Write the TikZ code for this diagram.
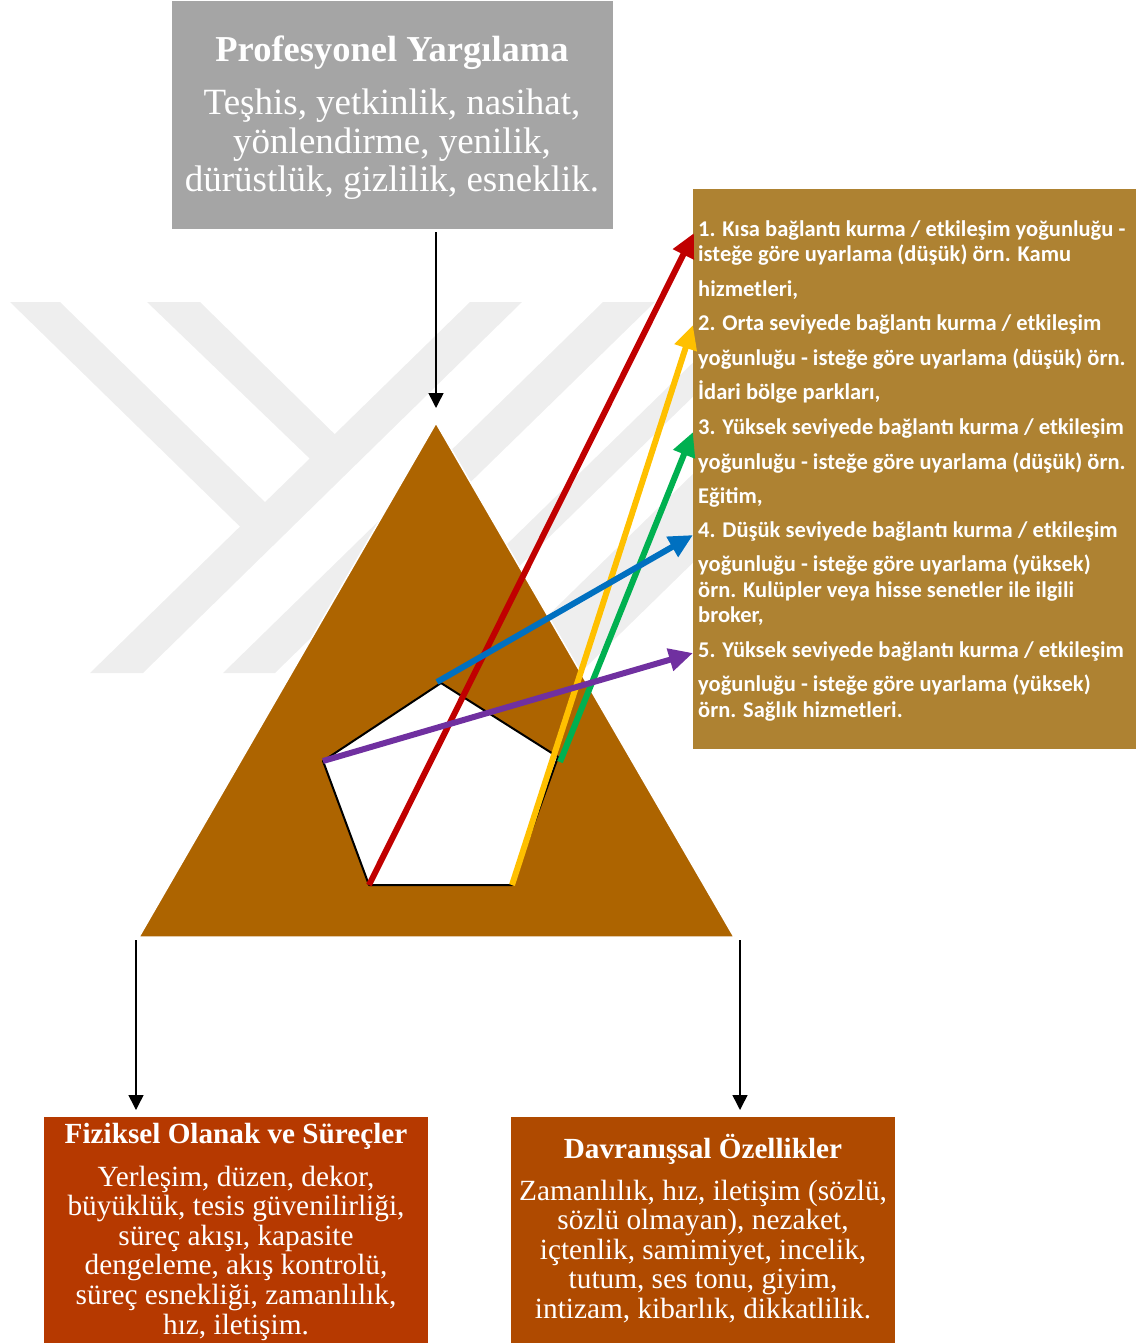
\documentclass[tikz,border=0pt]{standalone}
\usepackage{fontspec}
\setmainfont{Liberation Serif}
\newfontfamily\calfont{Carlito}
\usetikzlibrary{arrows.meta}
\definecolor{wm}{RGB}{238,238,238}
\definecolor{topgray}{RGB}{165,165,165}
\definecolor{tri}{RGB}{173,100,0}
\definecolor{gold}{RGB}{174,130,50}
\definecolor{boxL}{RGB}{182,57,0}
\definecolor{boxR}{RGB}{175,74,0}
\definecolor{cred}{RGB}{192,0,0}
\definecolor{cyel}{RGB}{255,192,0}
\definecolor{cgrn}{RGB}{0,176,80}
\definecolor{cblu}{RGB}{0,112,192}
\definecolor{cpur}{RGB}{112,48,160}
\tikzset{
  boxnode/.style={anchor=north west, inner sep=0pt, outer sep=0pt},
  tl/.style={anchor=base, text=white, inner sep=0pt},
  tlw/.style={anchor=base west, text=white, inner sep=0pt, font=\calfont\bfseries\fontsize{22.5}{24}\selectfont},
  bigtitle/.style={font=\bfseries\fontsize{36.5}{40}\selectfont},
  bigbody/.style={font=\fontsize{37}{40}\selectfont},
  smtitle/.style={font=\bfseries\fontsize{29.2}{32}\selectfont},
  smbody/.style={font=\fontsize{29.3}{32}\selectfont},
  carrow/.style={line width=6pt, -{Triangle[length=24pt,width=22pt]}},
  barrow/.style={line width=1.5pt, black, -{Triangle[length=15pt,width=15pt]}}
}
\begin{document}
\begin{tikzpicture}[x=1pt,y=-1pt]
\useasboundingbox (0,0) rectangle (1138,1343);
% watermark
\begin{scope}
\clip (0,302) rectangle (693,673);
\fill[wm] (10,302) -- (60,302) -- (291,527.5) -- (266,552) -- cycle;
\fill[wm] (147,302) -- (200,302) -- (358,457) -- (333,481) -- cycle;
\fill[wm] (470,302) -- (522,302) -- (143,673) -- (90,673) -- cycle;
\fill[wm] (603,302) -- (655,302) -- (275,673) -- (223,673) -- cycle;
\fill[wm] (755,302) -- (790,302) -- (410,673) -- (375,673) -- cycle;
\fill[wm] (869,302) -- (960,302) -- (580,673) -- (489,673) -- cycle;
\end{scope}
% boxes
\node[boxnode, fill=topgray, minimum width=441pt, minimum height=228pt] (topbox) at (172,1) {};
\node[boxnode, fill=gold, minimum width=443pt, minimum height=560pt] (rbox) at (693,189) {};
\node[boxnode, fill=boxL, minimum width=384pt, minimum height=227pt] (lbbox) at (44,1117) {};
\node[boxnode, fill=boxR, minimum width=384pt, minimum height=227pt] (rbbox) at (511,1117) {};
% triangle
\coordinate (apex) at (436,423);
\coordinate (bl) at (139,937);
\coordinate (br) at (734,937);
\path[fill=tri, draw=white, line width=1.5pt, line join=miter] (apex) -- (bl) -- (br) -- cycle;
% pentagon
\coordinate (p1) at (441,683);
\coordinate (p2) at (558,757);
\coordinate (p3) at (512,885);
\coordinate (p4) at (369,885);
\coordinate (p5) at (323,761);
\draw[fill=white, line width=2pt, line join=round] (p1) -- (p2) -- (p3) -- (p4) -- (p5) -- cycle;
% black arrows
\coordinate (topstart) at (436,232);
\coordinate (topend) at (436,408);
\coordinate (lstart) at (136,940);
\coordinate (lend) at (136,1110);
\coordinate (rstart) at (740,940);
\coordinate (rend) at (740,1110);
\draw[barrow] (topstart) -- (topend);
\draw[barrow] (lstart) -- (lend);
\draw[barrow] (rstart) -- (rend);
% coloured arrows
\coordinate (redtip) at (694,233);
\coordinate (yeltip) at (693,325);
\coordinate (grnstart) at (560,762);
\coordinate (grntip) at (693,432);
\coordinate (blustart) at (437,682);
\coordinate (blutip) at (693,535);
\coordinate (purtip) at (693,653);
\draw[carrow, cred] (p4) -- (redtip);
\draw[carrow, cyel] (p3) -- (yeltip);
\draw[carrow, cgrn] (grnstart) -- (grntip);
\draw[carrow, cblu] (blustart) -- (blutip);
\draw[carrow, cpur] (p5) -- (purtip);
% top box text
\node[tl, bigtitle] (tt0) at (392,62) {Profesyonel Yargılama};
\node[tl, bigbody] (tt1) at (392,115) {Teşhis, yetkinlik, nasihat,};
\node[tl, bigbody] (tt2) at (392,153.5) {yönlendirme, yenilik,};
\node[tl, bigbody] (tt3) at (392,192) {dürüstlük, gizlilik, esneklik.};
% right box text
\node[tlw] (r1) at (698,236) {1. Kısa bağlantı kurma / etkileşim yoğunluğu -};
\node[tlw] (r2) at (698,261) {isteğe göre uyarlama (düşük) örn. Kamu};
\node[tlw] (r3) at (698,296) {hizmetleri,};
\node[tlw] (r4) at (698,330) {2. Orta seviyede bağlantı kurma / etkileşim};
\node[tlw] (r5) at (698,365) {yoğunluğu - isteğe göre uyarlama (düşük) örn.};
\node[tlw] (r6) at (698,399) {İdari bölge parkları,};
\node[tlw] (r7) at (698,434) {3. Yüksek seviyede bağlantı kurma / etkileşim};
\node[tlw] (r8) at (698,469) {yoğunluğu - isteğe göre uyarlama (düşük) örn.};
\node[tlw] (r9) at (698,503) {Eğitim,};
\node[tlw] (r10) at (698,537) {4. Düşük seviyede bağlantı kurma / etkileşim};
\node[tlw] (r11) at (698,571) {yoğunluğu - isteğe göre uyarlama (yüksek)};
\node[tlw] (r12) at (698,597) {örn. Kulüpler veya hisse senetler ile ilgili};
\node[tlw] (r13) at (698,622) {broker,};
\node[tlw] (r14) at (698,657) {5. Yüksek seviyede bağlantı kurma / etkileşim};
\node[tlw] (r15) at (698,691) {yoğunluğu - isteğe göre uyarlama (yüksek)};
\node[tlw] (r16) at (698,717) {örn. Sağlık hizmetleri.};
% bottom left text
\node[tl, smtitle] (l0) at (236,1143) {Fiziksel Olanak ve Süreçler};
\node[tl, smbody] (l1) at (236,1186) {Yerleşim, düzen, dekor,};
\node[tl, smbody] (l2) at (236,1215.6) {büyüklük, tesis güvenilirliği,};
\node[tl, smbody] (l3) at (236,1245.2) {süreç akışı, kapasite};
\node[tl, smbody] (l4) at (236,1274.8) {dengeleme, akış kontrolü,};
\node[tl, smbody] (l5) at (236,1304.4) {süreç esnekliği, zamanlılık,};
\node[tl, smbody] (l6) at (236,1334) {hız, iletişim.};
% bottom right text
\node[tl, smtitle] (d0) at (703,1158) {Davranışsal Özellikler};
\node[tl, smbody] (d1) at (703,1200) {Zamanlılık, hız, iletişim (sözlü,};
\node[tl, smbody] (d2) at (703,1229.5) {sözlü olmayan), nezaket,};
\node[tl, smbody] (d3) at (703,1259) {içtenlik, samimiyet, incelik,};
\node[tl, smbody] (d4) at (703,1288.5) {tutum, ses tonu, giyim,};
\node[tl, smbody] (d5) at (703,1318) {intizam, kibarlık, dikkatlilik.};
\end{tikzpicture}
\end{document}
